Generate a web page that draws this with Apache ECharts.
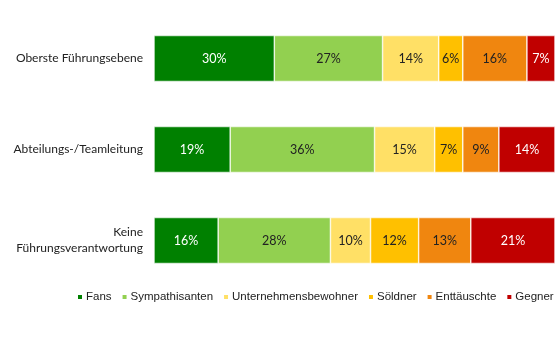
<!DOCTYPE html>
<html>
<head>
<meta charset="utf-8">
<script src="https://cdn.jsdelivr.net/npm/echarts@6/dist/echarts.min.js"></script>
<style>
  html, body { margin: 0; padding: 0; background: #fff; }
  #chart { width: 557px; height: 354px; }
</style>
</head>
<body>
<div id="chart"></div>
<script>
const categories = ['Oberste Führungsebene', 'Abteilungs-/Teamleitung', 'Keine\nFührungsverantwortung'];
const seriesNames = ['Fans', 'Sympathisanten', 'Unternehmensbewohner', 'Söldner', 'Enttäuschte', 'Gegner'];
const fans = [30, 19, 16];
const sympathisanten = [27, 36, 28];
const bewohner = [14, 15, 10];
const soeldner = [6, 7, 12];
const enttaeuschte = [16, 9, 13];
const gegner = [7, 14, 21];

const values = [fans, sympathisanten, bewohner, soeldner, enttaeuschte, gegner];
const colors = ['#008000', '#92D050', '#FFE066', '#FFC000', '#F0860F', '#C00000'];
const labelColors = ['#ffffff', '#222222', '#222222', '#222222', '#222222', '#ffffff'];

const chart = echarts.init(document.getElementById('chart'));

const series = seriesNames.map((name, i) => ({
  name: name,
  type: 'bar',
  stack: 'total',
  barWidth: 46,
  data: values[i],
  itemStyle: {
    color: colors[i],
    borderColor: '#ffffff',
    borderWidth: 0.6
  },
  label: {
    show: true,
    position: 'inside',
    formatter: '{c}%',
    color: labelColors[i],
    fontFamily: 'Lato',
    fontSize: 12.5
  }
}));

chart.setOption({
  animation: false,
  grid: {
    left: 154,
    right: 2,
    top: 13,
    bottom: 68
  },
  xAxis: {
    type: 'value',
    min: 0,
    max: 100,
    show: false
  },
  yAxis: {
    type: 'category',
    inverse: true,
    data: categories,
    axisLine: { show: false },
    axisTick: { show: false },
    axisLabel: {
      margin: 11,
      color: '#222222',
      fontFamily: 'Lato',
      fontSize: 12,
      lineHeight: 16,
      align: 'right'
    }
  },
  legend: {
    data: seriesNames,
    bottom: 51,
    left: 76,
    width: 481,
    padding: 0,
    itemWidth: 6,
    itemHeight: 6,
    itemGap: 9,
    icon: 'rect',
    textStyle: {
      fontFamily: 'Liberation Sans',
      fontSize: 11.5,
      color: '#222222',
      padding: [0, 0, 0, -2]
    }
  },
  series: series
});
</script>
</body>
</html>
